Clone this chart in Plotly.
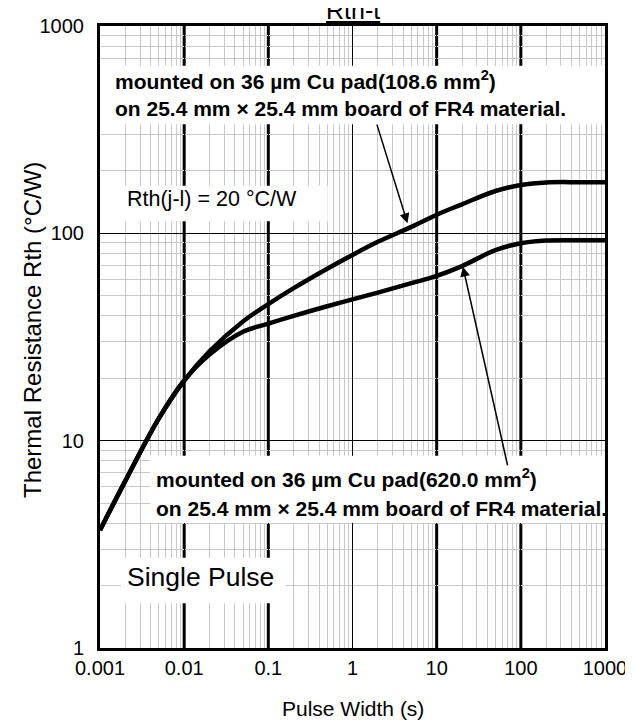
import math
import plotly.graph_objects as go

# ---- data ----
t_upper = [0.001, 0.002, 0.005, 0.01, 0.02, 0.05, 0.1, 0.2, 0.5, 1, 2, 5, 10,
           20, 50, 100, 200, 500, 1000]
r_upper = [3.7, 6.4, 12.8, 19.5, 27.0, 37.6, 45.6, 54.4, 67.5, 78.7, 91.0, 107.4, 123,
           138, 160, 171, 176, 176.5, 176.5]

t_lower = [0.001, 0.002, 0.005, 0.01, 0.02, 0.05, 0.1, 0.2, 0.5, 1, 2, 5, 10,
           20, 50, 100, 200, 500, 1000]
r_lower = [3.7, 6.4, 12.8, 19.5, 26.0, 33.5, 36.7, 40.0, 44.5, 48.0, 51.8, 57.5, 62.3,
           69.5, 83.0, 89.5, 92.3, 92.5, 92.5]

x_tickvals = [0.001, 0.01, 0.1, 1, 10, 100, 1000]
x_ticktext = ["0.001", "0.01", "0.1", "1", "10", "100", "1000"]
y_tickvals = [1, 10, 100, 1000]
y_ticktext = ["1", "10", "100", "1000"]

thick_x = [0.01, 0.1, 10, 100]

X_LOG_RANGE = [-3, 3]
Y_LOG_RANGE = [0, 3]

FONT = "Liberation Sans, Arial, sans-serif"

fig = go.Figure()
for tx, ry in ((t_upper, r_upper), (t_lower, r_lower)):
    fig.add_trace(go.Scatter(x=tx, y=ry, mode="lines",
                             line=dict(color="black", width=4.5, shape="spline", smoothing=1.0),
                             showlegend=False, hoverinfo="skip"))

shapes = []
for xv in thick_x:
    shapes.append(dict(type="line", xref="x", yref="paper", x0=xv, x1=xv, y0=0, y1=1,
                       line=dict(color="black", width=3), layer="between"))

def fx(f):  # axis fraction -> data value on the log x axis
    return 10 ** (X_LOG_RANGE[0] + (X_LOG_RANGE[1] - X_LOG_RANGE[0]) * f)

def fy(f):
    return 10 ** (Y_LOG_RANGE[0] + (Y_LOG_RANGE[1] - Y_LOG_RANGE[0]) * f)

# white boxes behind the notes (axis fractions)
boxes = [
    (0.0, 1.0, 0.842, 0.936),
    (0.042, 0.451, 0.686, 0.743),
    (0.099, 1.0, 0.201, 0.309),
    (0.042, 0.368, 0.072, 0.145),
]
for x0, x1, y0, y1 in boxes:
    shapes.append(dict(type="rect", xref="x", yref="y", x0=fx(x0), x1=fx(x1), y0=fy(y0), y1=fy(y1),
                       fillcolor="white", line=dict(width=0), layer="between"))

ann = []
def txt(x, y, s, size, bold=False, **kw):
    d = dict(xref="paper", yref="paper", x=x, y=y, xanchor="left", yanchor="middle",
             text=("<b>%s</b>" % s) if bold else s, showarrow=False,
             font=dict(family=FONT, size=size, color="black"))
    d.update(kw)
    ann.append(d)

txt(0.026, 0.913, "mounted on 36 µm Cu pad(108.6 mm<sup>2</sup>)", 21, True)
txt(0.026, 0.868, "on 25.4 mm × 25.4 mm board of FR4 material.", 21, True)
txt(0.050, 0.722, "Rth(j-l) = 20 °C/W", 21.5)
txt(0.107, 0.273, "mounted on 36 µm Cu pad(620.0 mm<sup>2</sup>)", 21, True)
txt(0.107, 0.225, "on 25.4 mm × 25.4 mm board of FR4 material.", 21, True)
txt(0.050, 0.114, "Single Pulse", 26.5)

# axis titles
ann.append(dict(xref="paper", yref="paper", x=0.5, y=-0.0965, xanchor="center", yanchor="middle",
                text="Pulse Width (s)", showarrow=False,
                font=dict(family=FONT, size=21, color="black")))
ann.append(dict(xref="paper", yref="paper", x=-0.135, y=0.511, xanchor="center", yanchor="middle",
                text="Thermal Resistance Rth (°C/W)", textangle=-90, showarrow=False,
                font=dict(family=FONT, size=24, color="black")))

# arrows
ann.append(dict(xref="x", yref="y", x=math.log10(4.5), y=math.log10(112), text="",
                showarrow=True, ax=-31, ay=-100, arrowhead=2, arrowsize=1.3,
                arrowwidth=1.5, arrowcolor="black", standoff=0))
ann.append(dict(xref="x", yref="y", x=math.log10(20.5), y=math.log10(69), text="",
                showarrow=True, ax=45, ay=200, arrowhead=2, arrowsize=1.3,
                arrowwidth=1.5, arrowcolor="black", standoff=0))

# title (cut at the top like the reference)
ann.append(dict(xref="paper", yref="paper", x=0.5, y=1, xanchor="center", yanchor="bottom",
                yshift=0.5, text="<u>Rth-t</u>", showarrow=False,
                font=dict(family=FONT, size=25, color="black")))

fig.update_layout(
    width=633, height=720,
    margin=dict(l=92, r=36, t=18, b=80),
    paper_bgcolor="white", plot_bgcolor="white",
    font=dict(family=FONT, size=20, color="black"),
    shapes=shapes, annotations=ann,
    xaxis=dict(type="log", range=X_LOG_RANGE, tickmode="array", tickvals=x_tickvals,
               ticktext=x_ticktext, ticks="", ticklabelstandoff=0, automargin=False,
               showgrid=True, gridcolor="black", gridwidth=1,
               minor=dict(dtick="D1", showgrid=True, gridcolor="#c8c8c8", gridwidth=1, ticks=""),
               showline=True, linecolor="black", linewidth=3, mirror=True, zeroline=False),
    yaxis=dict(type="log", range=Y_LOG_RANGE, tickmode="array", tickvals=y_tickvals,
               ticktext=y_ticktext, ticks="", ticklabelstandoff=9, automargin=False,
               showgrid=True, gridcolor="black", gridwidth=1,
               minor=dict(dtick="D1", showgrid=True, gridcolor="#c8c8c8", gridwidth=1, ticks=""),
               showline=True, linecolor="black", linewidth=3, mirror=True, zeroline=False),
)

fig.write_html("out.html")
